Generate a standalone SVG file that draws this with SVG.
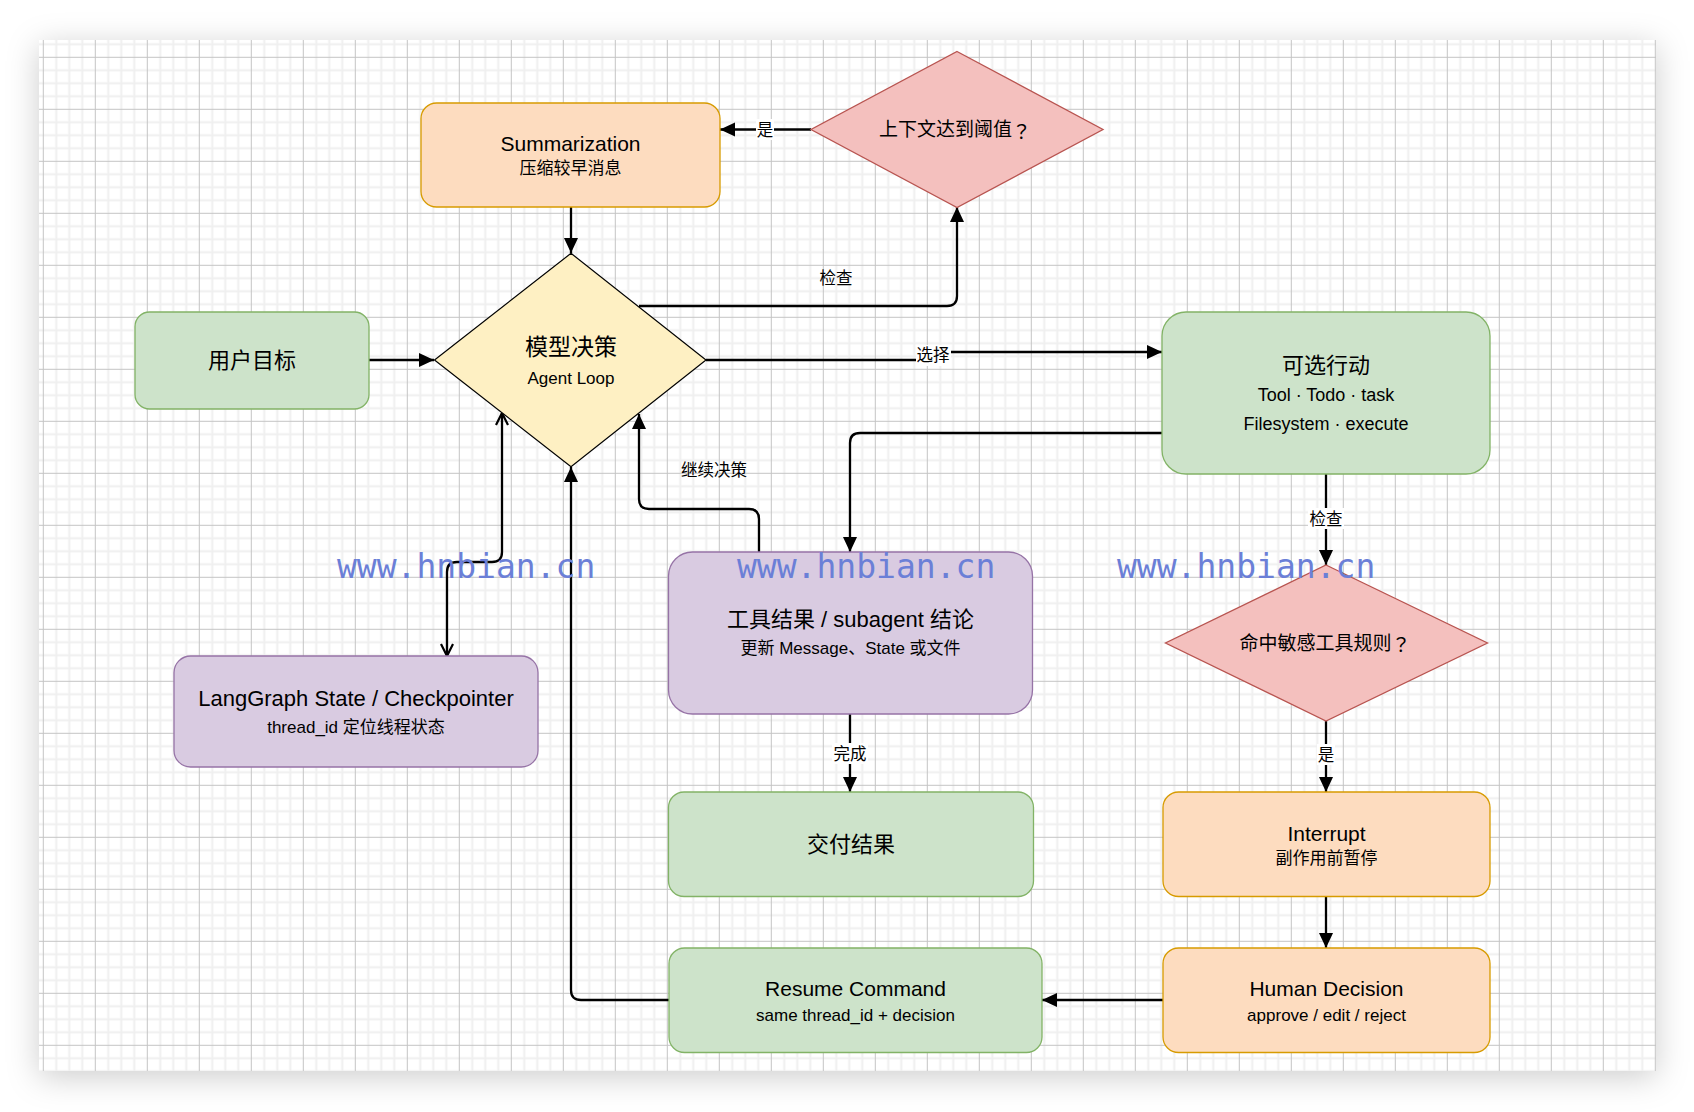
<svg xmlns="http://www.w3.org/2000/svg" width="1694" height="1112" viewBox="0 0 1694 1112">
<defs>
<pattern id="grid" x="42.8" y="56.8" width="52" height="52" patternUnits="userSpaceOnUse">
<path d="M13.5,0V52M26.5,0V52M39.5,0V52M0,13.5H52M0,26.5H52M0,39.5H52" stroke="#efefef" stroke-width="2" fill="none"/>
<path d="M0.5,0V52M0,0.5H52" stroke="#c4c4c4" stroke-width="1" fill="none"/>
</pattern>
<filter id="shadow" x="-10%" y="-10%" width="120%" height="125%">
<feDropShadow dx="0" dy="6" stdDeviation="16" flood-color="#000" flood-opacity="0.2"/>
</filter>
<marker id="arr" viewBox="0 0 15 15" refX="15" refY="7.5" markerWidth="15" markerHeight="15" markerUnits="userSpaceOnUse" orient="auto">
<path d="M0,0.5 L15,7.5 L0,14.5 z" fill="#000"/>
</marker>
<marker id="open" viewBox="0 0 14 14" refX="13" refY="7" markerWidth="14" markerHeight="14" markerUnits="userSpaceOnUse" orient="auto-start-reverse">
<path d="M1,1 L13,7 L1,13" fill="none" stroke="#000" stroke-width="2.2"/>
</marker>
<style>
text{font-family:"Liberation Sans","Noto Sans CJK SC",sans-serif;fill:#000;text-anchor:middle;dominant-baseline:central}
.t22{font-size:22px}
.t21{font-size:21px}
.t18{font-size:18px}
.t17{font-size:17px}
.lbl{font-size:16.5px}
.q{font-family:"Noto Sans CJK JP",sans-serif}
.green{fill:#cde3ca;stroke:#82b366;stroke-width:1.3}
.orange{fill:#fddcbf;stroke:#d79b00;stroke-width:1.3}
.purple{fill:#d9cbe1;stroke:#9673a6;stroke-width:1.3}
.red{fill:#f4c0be;stroke:#b85450;stroke-width:1.3}
.yellow{fill:#fef0c3;stroke:#000;stroke-width:1.2}
.edge{fill:none;stroke:#000;stroke-width:2.3}
.wm{font-family:"DejaVu Sans Mono","Liberation Mono",monospace;font-size:33px;fill:#6b7fd7;text-anchor:start;dominant-baseline:alphabetic}
</style>
</defs>
<rect width="1694" height="1112" fill="#ffffff"/>
<rect x="39" y="40" width="1617" height="1031" fill="#ffffff" filter="url(#shadow)"/>
<rect x="39" y="40" width="1617" height="1031" fill="url(#grid)"/>

<g id="connectors">
<path class="edge" d="M369,360 H434" marker-end="url(#arr)"/>
<path class="edge" d="M571,207 V253" marker-end="url(#arr)"/>
<path class="edge" d="M811,129.5 H720" marker-end="url(#arr)"/>
<path class="edge" d="M639,306 H947 Q957,306 957,296 V207" marker-end="url(#arr)"/>
<path class="edge" d="M706,360 H933 V352 H1162" marker-end="url(#arr)"/>
<path class="edge" d="M1162,433 H860 Q850,433 850,443 V552" marker-end="url(#arr)"/>
<path class="edge" d="M759,552 V519 Q759,509 749,509 H649 Q639,509 639,499 V414" marker-end="url(#arr)"/>
<path class="edge" d="M502,413 V552 Q502,562 492,562 H457 Q447,562 447,572 V656" marker-start="url(#open)" marker-end="url(#open)"/>
<path class="edge" d="M1326,474 V565" marker-end="url(#arr)"/>
<path class="edge" d="M1326,721 V792" marker-end="url(#arr)"/>
<path class="edge" d="M1326,897 V948" marker-end="url(#arr)"/>
<path class="edge" d="M1163,1000 H1042" marker-end="url(#arr)"/>
<path class="edge" d="M669,1000 H581 Q571,1000 571,990 V467" marker-end="url(#arr)"/>
<path class="edge" d="M850,714 V792" marker-end="url(#arr)"/>
<rect x="756" y="119" width="18" height="21" fill="#fff"/>
<text class="lbl" x="765" y="129.5">是</text>
<text class="lbl" x="836" y="278">检查</text>
<rect x="916" y="345" width="35" height="21" fill="#fff"/>
<text class="lbl" x="933" y="355">选择</text>
<text class="lbl" x="714" y="470">继续决策</text>
<rect x="1308" y="508" width="36" height="21" fill="#fff"/>
<text class="lbl" x="1326" y="518.5">检查</text>
<rect x="1317" y="744" width="18" height="21" fill="#fff"/>
<text class="lbl" x="1326" y="755">是</text>
<rect x="832" y="743" width="36" height="21" fill="#fff"/>
<text class="lbl" x="850" y="754">完成</text>
</g>

<g id="summarization">
<rect class="orange" x="421" y="103" width="299" height="104" rx="15.6"/>
<text class="t21" x="570.5" y="143">Summarization</text>
<text class="t17" x="570.5" y="168.5">压缩较早消息</text>
</g>
<g id="context-threshold">
<polygon class="red" points="957,51.5 1103,129.5 957,207.5 811,129.5"/>
<text x="955" y="129.5" style="font-size:19px">上下文达到阈值<tspan class="q">？</tspan></text>
</g>
<g id="user-goal">
<rect class="green" x="135" y="312" width="234" height="97" rx="14.6"/>
<text class="t22" x="252" y="360">用户目标</text>
</g>
<g id="model-decision">
<polygon class="yellow" points="571,253.3 706,360 571,466.7 434.5,360"/>
<text x="571" y="347" style="font-size:23px">模型决策</text>
<text class="t17" x="571" y="378">Agent Loop</text>
</g>
<g id="actions">
<rect class="green" x="1162" y="312" width="328" height="162" rx="24"/>
<text class="t22" x="1326" y="365">可选行动</text>
<text class="t18" x="1326" y="395">Tool · Todo · task</text>
<text class="t18" x="1326" y="424">Filesystem · execute</text>
</g>
<g id="langgraph-state">
<rect class="purple" x="174" y="656" width="364" height="111" rx="16.6"/>
<text class="t22" x="356" y="698">LangGraph State / Checkpointer</text>
<text class="t17" x="356" y="727">thread_id 定位线程状态</text>
</g>
<g id="tool-result">
<rect class="purple" x="668.5" y="552" width="364" height="162" rx="24"/>
<text class="t22" x="850.5" y="619">工具结果 / subagent 结论</text>
<text class="t17" x="850.5" y="648">更新 Message、State 或文件</text>
</g>
<g id="sensitive-check">
<polygon class="red" points="1326,565 1487.5,643 1326,721 1165.5,643"/>
<text x="1325" y="643" style="font-size:19px">命中敏感工具规则<tspan class="q">？</tspan></text>
</g>
<g id="deliver">
<rect class="green" x="668.5" y="792" width="365" height="104.5" rx="15.6"/>
<text class="t22" x="851" y="844">交付结果</text>
</g>
<g id="interrupt">
<rect class="orange" x="1163" y="792" width="327" height="104.5" rx="15.6"/>
<text class="t21" x="1326.5" y="833">Interrupt</text>
<text class="t17" x="1326.5" y="858">副作用前暂停</text>
</g>
<g id="human-decision">
<rect class="orange" x="1163" y="948" width="327" height="104.5" rx="15.6"/>
<text class="t21" x="1326.5" y="988">Human Decision</text>
<text class="t17" x="1326.5" y="1015">approve / edit / reject</text>
</g>
<g id="resume-command">
<rect class="green" x="669" y="948" width="373" height="104.5" rx="15.6"/>
<text class="t21" x="855.5" y="988">Resume Command</text>
<text class="t17" x="855.5" y="1015">same thread_id + decision</text>
</g>

<g id="watermarks">
<text class="wm" x="337" y="578">www.hnbian.cn</text>
<text class="wm" x="737" y="578">www.hnbian.cn</text>
<text class="wm" x="1117" y="578">www.hnbian.cn</text>
</g>
</svg>
